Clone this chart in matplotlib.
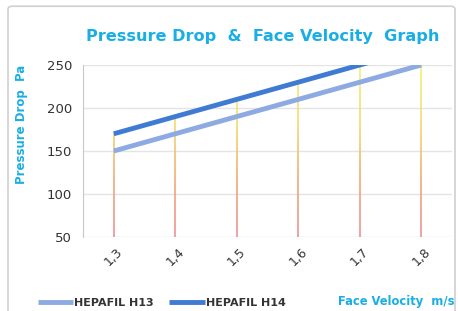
import numpy as np
import matplotlib.pyplot as plt
from matplotlib.collections import LineCollection
from matplotlib.colors import LinearSegmentedColormap
from matplotlib.patches import FancyBboxPatch

velocity = [1.3, 1.4, 1.5, 1.6, 1.7, 1.8]
tick_labels = ['1,3', '1,4', '1,5', '1,6', '1,7', '1,8']
h13 = [150, 170, 190, 210, 230, 250]
h14 = [170, 190, 210, 230, 250, 270]

title_color = '#1aaee6'
fig = plt.figure(figsize=(4.58, 3.11), dpi=100)
ax = fig.add_axes([83 / 458, 1 - 237 / 311, (452 - 83) / 458, (237 - 65) / 311])

# outer frame of the chart
frame = FancyBboxPatch((8 / 458, -0.05), 447 / 458, 1.03, boxstyle='round,pad=0,rounding_size=0.01',
                       transform=fig.transFigure, fill=False, edgecolor='#d0d0d0', linewidth=1.2)
fig.patches.append(frame)

ymin, ymax = 50, 250

# drop lines with yellow -> red gradient
cmap = LinearSegmentedColormap.from_list('drop', ['#ee9098', '#f2aa78', '#f3dc6c', '#eef27a'])
for i, x in enumerate(velocity):
    top = min(max(h13[i], h14[i]), ymax)
    ys = np.linspace(ymin, top, 60)
    segs = [[(x, ys[k]), (x, ys[k + 1])] for k in range(len(ys) - 1)]
    lc = LineCollection(segs, colors=cmap((ys[:-1] - ymin) / (ymax - ymin)), linewidths=1.2, zorder=2)
    ax.add_collection(lc)

ax.plot(velocity, h13, color='#8eaae2', linewidth=3.5, solid_capstyle='butt', label='HEPAFIL H13', zorder=3)
ax.plot(velocity, h14, color='#3f7bd2', linewidth=3.5, solid_capstyle='butt', label='HEPAFIL H14', zorder=3)

ax.set_xlim(1.25, 1.85)
ax.set_ylim(ymin, ymax)
ax.set_yticks([50, 100, 150, 200, 250])
ax.set_xticks(velocity)
ax.set_xticklabels(tick_labels, rotation=45, fontsize=9, color='#333333')
ax.tick_params(axis='y', labelsize=9.5, colors='#333333', length=0, pad=8)
ax.tick_params(axis='x', length=0, pad=6)
ax.grid(axis='y', color='#e4e4e4', linewidth=1)
for s in ['top', 'right', 'bottom']:
    ax.spines[s].set_visible(False)
ax.spines['left'].set_color('#c8c8c8')

fig.text(263 / 458, 1 - 37 / 311, 'Pressure Drop  &  Face Velocity  Graph', ha='center', va='center',
         fontsize=11.6, fontweight='bold', color=title_color)
fig.text(22 / 458, 1 - 124 / 311, 'Pressure Drop  Pa', ha='center', va='center', rotation=90,
         fontsize=8.5, fontweight='bold', color=title_color)
fig.text(396 / 458, 1 - 302 / 311, 'Face Velocity  m/s', ha='center', va='center',
         fontsize=8.3, fontweight='bold', color=title_color)

fig.legend(loc='center left', bbox_to_anchor=(32 / 458, 1 - 303 / 311), ncol=2, frameon=False,
           prop={'size': 8.0, 'weight': 'bold'}, labelcolor='#333333',
           handlelength=3.2, columnspacing=1.4, handletextpad=0.1, borderpad=0)

fig.savefig('out.png', dpi=100)
